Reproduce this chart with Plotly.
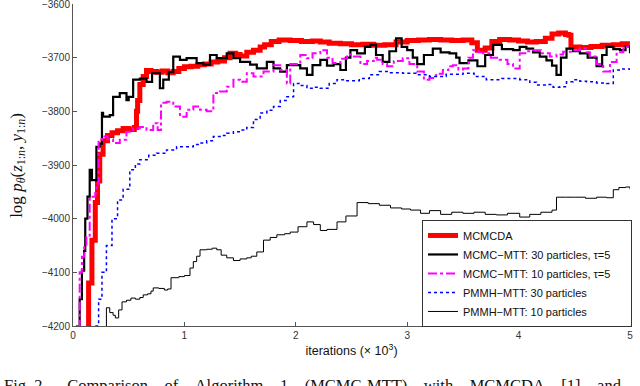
import plotly.graph_objects as go

# ---- data (iterations in thousands, log-likelihood) ----
x_mcmcda = [0.12, 0.14, 0.17, 0.20, 0.22, 0.24, 0.27, 0.31, 0.35, 0.40, 0.45, 0.50, 0.55, 0.57,
            0.58, 0.60, 0.63, 0.66, 0.70, 0.75, 0.80, 0.85, 0.90, 0.95, 1.00, 1.06, 1.12, 1.18,
            1.24, 1.30, 1.36, 1.41, 1.46, 1.50, 1.56, 1.62, 1.68, 1.72, 1.78, 1.85, 1.95, 2.05,
            2.15, 2.22, 2.30, 2.40, 2.50, 2.60, 2.70, 2.80, 2.90, 3.00, 3.10, 3.20, 3.30, 3.40,
            3.50, 3.58, 3.63, 3.70, 3.76, 3.83, 3.92, 4.00, 4.08, 4.16, 4.24, 4.30, 4.36, 4.42,
            4.45, 4.47, 4.55, 4.65, 4.75, 4.85, 4.93, 5.00]
y_mcmcda = [-4200, -4120, -4040, -3970, -3930, -3880, -3855, -3845, -3840, -3836, -3832, -3834,
            -3830, -3800, -3780, -3750, -3735, -3724, -3726, -3727, -3725, -3728, -3726, -3720,
            -3717, -3716, -3713, -3712, -3708, -3706, -3700, -3692, -3694, -3697, -3690, -3686,
            -3680, -3676, -3670, -3667, -3668, -3670, -3669, -3671, -3673, -3674, -3676, -3675,
            -3677, -3676, -3671, -3668, -3667, -3666, -3667, -3668, -3667, -3672, -3686, -3682,
            -3670, -3666, -3667, -3669, -3671, -3670, -3664, -3656, -3654, -3657, -3658, -3680,
            -3681, -3679, -3677, -3676, -3674, -3675]

x_mtt30 = [0.03, 0.06, 0.08, 0.10, 0.11, 0.13, 0.15, 0.17, 0.21, 0.24, 0.26, 0.27, 0.33, 0.36,
           0.42, 0.48, 0.50, 0.54, 0.60, 0.66, 0.71, 0.78, 0.81, 0.86, 0.90, 0.96, 1.02, 1.11,
           1.17, 1.23, 1.29, 1.38, 1.44, 1.50, 1.59, 1.65, 1.74, 1.80, 1.86, 1.92, 2.04, 2.10,
           2.15, 2.22, 2.28, 2.34, 2.40, 2.45, 2.49, 2.55, 2.62, 2.67, 2.72, 2.78, 2.84, 2.90,
           2.95, 3.00, 3.05, 3.09, 3.15, 3.23, 3.30, 3.38, 3.44, 3.47, 3.55, 3.63, 3.70, 3.77,
           3.85, 3.95, 4.01, 4.07, 4.13, 4.19, 4.25, 4.30, 4.34, 4.38, 4.43, 4.49, 4.55, 4.62,
           4.70, 4.75, 4.79, 4.85, 4.91, 4.96, 5.00]
y_mtt30 = [-4200, -4150, -4097, -4060, -4000, -3959, -3909, -3928, -3866, -3860, -3803, -3810,
           -3807, -3773, -3766, -3779, -3773, -3741, -3739, -3745, -3729, -3757, -3741, -3727,
           -3698, -3704, -3701, -3710, -3713, -3695, -3701, -3692, -3701, -3708, -3713, -3720,
           -3708, -3720, -3726, -3714, -3720, -3732, -3714, -3704, -3715, -3712, -3723, -3700,
           -3686, -3692, -3680, -3676, -3695, -3708, -3688, -3664, -3680, -3686, -3700, -3712,
           -3695, -3683, -3690, -3692, -3700, -3710, -3705, -3716, -3695, -3676, -3684, -3686,
           -3680, -3683, -3690, -3698, -3705, -3715, -3732, -3700, -3683, -3688, -3692, -3700,
           -3716, -3695, -3680, -3684, -3686, -3680, -3692]

x_mtt10 = [0.035, 0.06, 0.08, 0.10, 0.12, 0.15, 0.20, 0.21, 0.23, 0.26, 0.31, 0.36, 0.42, 0.48,
           0.54, 0.60, 0.66, 0.72, 0.76, 0.79, 0.84, 0.90, 0.96, 1.02, 1.08, 1.14, 1.20, 1.26,
           1.32, 1.38, 1.44, 1.50, 1.56, 1.62, 1.71, 1.80, 1.86, 1.92, 1.95, 2.04, 2.10, 2.15,
           2.22, 2.28, 2.33, 2.40, 2.46, 2.52, 2.58, 2.64, 2.70, 2.73, 2.78, 2.82, 2.88, 2.96,
           3.02, 3.09, 3.15, 3.20, 3.26, 3.32, 3.37, 3.41, 3.46, 3.50, 3.55, 3.59, 3.64, 3.68,
           3.75, 3.83, 3.90, 3.95, 4.01, 4.07, 4.13, 4.20, 4.28, 4.34, 4.40, 4.48, 4.55, 4.60,
           4.64, 4.70, 4.76, 4.82, 4.88, 4.94, 5.00]
y_mtt10 = [-4200, -4100, -4071, -4050, -4034, -3959, -3952, -3935, -3853, -3847, -3852, -3859,
           -3853, -3838, -3832, -3829, -3835, -3822, -3835, -3784, -3782, -3791, -3810, -3797,
           -3791, -3797, -3800, -3766, -3763, -3754, -3741, -3745, -3729, -3735, -3726, -3714,
           -3723, -3748, -3712, -3695, -3701, -3692, -3686, -3700, -3710, -3702, -3694, -3698,
           -3712, -3706, -3700, -3704, -3712, -3716, -3706, -3701, -3712, -3726, -3741, -3738,
           -3730, -3723, -3716, -3714, -3722, -3720, -3700, -3686, -3690, -3692, -3700, -3704,
           -3712, -3720, -3692, -3688, -3686, -3692, -3698, -3694, -3689, -3686, -3683, -3690,
           -3698, -3712, -3726, -3708, -3690, -3680, -3673]

x_pmmh30 = [0.20, 0.23, 0.26, 0.30, 0.35, 0.40, 0.45, 0.51, 0.56, 0.60, 0.68, 0.75, 0.84, 0.93,
            1.02, 1.08, 1.14, 1.20, 1.26, 1.32, 1.38, 1.44, 1.50, 1.56, 1.62, 1.68, 1.74, 1.80,
            1.86, 1.92, 1.98, 2.04, 2.10, 2.16, 2.22, 2.30, 2.37, 2.45, 2.57, 2.66, 2.75, 2.85,
            2.96, 3.08, 3.20, 3.35, 3.50, 3.60, 3.71, 3.85, 4.01, 4.10, 4.16, 4.25, 4.31, 4.37,
            4.43, 4.49, 4.55, 4.61, 4.70, 4.79, 4.85, 4.92, 5.00]
y_pmmh30 = [-4200, -4150, -4100, -4050, -4000, -3965, -3945, -3909, -3898, -3890, -3882, -3878,
            -3872, -3866, -3866, -3862, -3859, -3855, -3847, -3845, -3841, -3838, -3835, -3830,
            -3815, -3803, -3798, -3791, -3780, -3773, -3748, -3752, -3757, -3755, -3757, -3748,
            -3741, -3743, -3739, -3732, -3726, -3728, -3729, -3732, -3735, -3731, -3729, -3735,
            -3741, -3739, -3741, -3746, -3751, -3750, -3755, -3754, -3745, -3741, -3744, -3745,
            -3747, -3748, -3723, -3721, -3726]

x_pmmh10 = [0.29, 0.30, 0.33, 0.36, 0.38, 0.41, 0.44, 0.48, 0.52, 0.56, 0.60, 0.63, 0.67, 0.70,
            0.72, 0.77, 0.82, 0.85, 0.88, 0.95, 1.00, 1.05, 1.08, 1.11, 1.14, 1.20, 1.25, 1.29,
            1.33, 1.38, 1.44, 1.50, 1.56, 1.60, 1.65, 1.71, 1.77, 1.83, 1.90, 1.95, 2.02, 2.10,
            2.16, 2.22, 2.28, 2.37, 2.45, 2.55, 2.65, 2.75, 2.85, 2.95, 3.03, 3.12, 3.20, 3.30,
            3.40, 3.50, 3.60, 3.70, 3.80, 3.90, 4.01, 4.10, 4.20, 4.30, 4.34, 4.42, 4.50, 4.60,
            4.70, 4.79, 4.85, 4.90, 4.96, 5.00]
y_pmmh10 = [-4230, -4166, -4175, -4180, -4185, -4170, -4155, -4152, -4148, -4150, -4147, -4142,
            -4140, -4135, -4129, -4130, -4133, -4131, -4110, -4108, -4106, -4092, -4080, -4070,
            -4058, -4057, -4055, -4058, -4068, -4073, -4078, -4075, -4073, -4070, -4062, -4040,
            -4035, -4030, -4028, -4025, -4015, -4006, -4011, -4022, -4020, -4006, -3995, -3970,
            -3972, -3975, -3980, -3982, -3984, -3990, -3985, -3992, -3988, -3990, -3988, -3992,
            -3993, -3990, -3997, -3992, -3988, -3984, -3960, -3960, -3960, -3962, -3960, -3961,
            -3946, -3942, -3941, -3945]

x_ticks = [0, 1, 2, 3, 4, 5]
y_ticks = [-4200, -4100, -4000, -3900, -3800, -3700, -3600]

nb = '\u00a0'
fig = go.Figure()

fig.add_trace(go.Scatter(x=x_mcmcda, y=y_mcmcda, mode='lines', name='MCMCDA',
                         line=dict(color='#ff0000', width=5, shape='hv')))
fig.add_trace(go.Scatter(x=x_mtt30, y=y_mtt30, mode='lines',
                         name='MCMC\u2212MTT: 30 particles, \u03c4=5' + nb * 5,
                         line=dict(color='#000000', width=2.2, shape='hv')))
fig.add_trace(go.Scatter(x=x_mtt10, y=y_mtt10, mode='lines',
                         name='MCMC\u2212MTT: 10 particles, \u03c4=5' + nb * 5,
                         line=dict(color='#ff00ff', width=2, dash='dashdot', shape='hv')))
fig.add_trace(go.Scatter(x=x_pmmh30, y=y_pmmh30, mode='lines', name='PMMH\u2212MTT: 30 particles',
                         line=dict(color='#0000ff', width=1.5, dash='dot', shape='hv')))
fig.add_trace(go.Scatter(x=x_pmmh10, y=y_pmmh10, mode='lines', name='PMMH\u2212MTT: 10 particles',
                         line=dict(color='#000000', width=1, shape='hv')))

axis_font = dict(family='Liberation Sans, Arial, sans-serif', size=10, color='#333')

fig.update_xaxes(range=[0, 5], tickvals=x_ticks, showline=True, linecolor='#555', linewidth=1,
                 ticks='inside', ticklen=4, tickcolor='#555', showgrid=False, zeroline=False,
                 tickfont=axis_font, automargin=False,
                 title=dict(text='iterations (\u00d7 10<sup>3</sup>)', standoff=6,
                            font=dict(family='Liberation Sans, Arial, sans-serif', size=12.5, color='#111')))
fig.update_yaxes(range=[-4200, -3600], tickvals=y_ticks, showline=True, linecolor='#555', linewidth=1,
                 ticks='inside', ticklen=4, tickcolor='#555', showgrid=False, zeroline=False,
                 tickfont=axis_font, automargin=False, ticklabeloverflow='allow')

# y-axis label (math-style, serif)
fig.add_annotation(xref='paper', yref='paper', x=-0.099, y=0.5, textangle=-90, showarrow=False,
                   xanchor='center', yanchor='middle',
                   text='log <i>p</i><sub><i>\u03b8</i></sub>(<i>z</i><sub>1:<i>n</i></sub>, '
                        '<i>y</i><sub>1:<i>n</i></sub>)',
                   font=dict(family='Liberation Serif, Times New Roman, serif', size=17, color='#111'))

# figure caption, cut off at the bottom edge
caption = ('Fig.' + nb + '2.' + nb * 5 + 'Comparison' + nb * 4 + 'of' + nb * 4 + 'Algorithm' + nb * 4
           + '1' + nb * 4 + '(MCMC-MTT)' + nb * 4 + 'with' + nb * 4 + 'MCMCDA' + nb * 4 + '[1]'
           + nb * 4 + 'and')
fig.add_annotation(xref='paper', yref='paper', x=-73 / 557 + 0.004, y=-0.185, showarrow=False,
                   xanchor='left', yanchor='middle', text=caption,
                   font=dict(family='Liberation Serif, Times New Roman, serif', size=16.5, color='#111'))

fig.update_layout(
    width=640, height=386,
    margin=dict(l=73, r=10, t=4, b=60),
    plot_bgcolor='white', paper_bgcolor='white',
    showlegend=True,
    legend=dict(x=1.0036, y=-0.003, xanchor='right', yanchor='bottom',
                bgcolor='white', bordercolor='#333', borderwidth=1,
                font=dict(family='Liberation Sans, Arial, sans-serif', size=11, color='#111'),
                tracegroupgap=0),
)

# remove the default page margin so the figure sits at the window's top-left corner
fig.write_html("out.html", config={'displayModeBar': False},
               post_script="document.body.style.margin='0';")
